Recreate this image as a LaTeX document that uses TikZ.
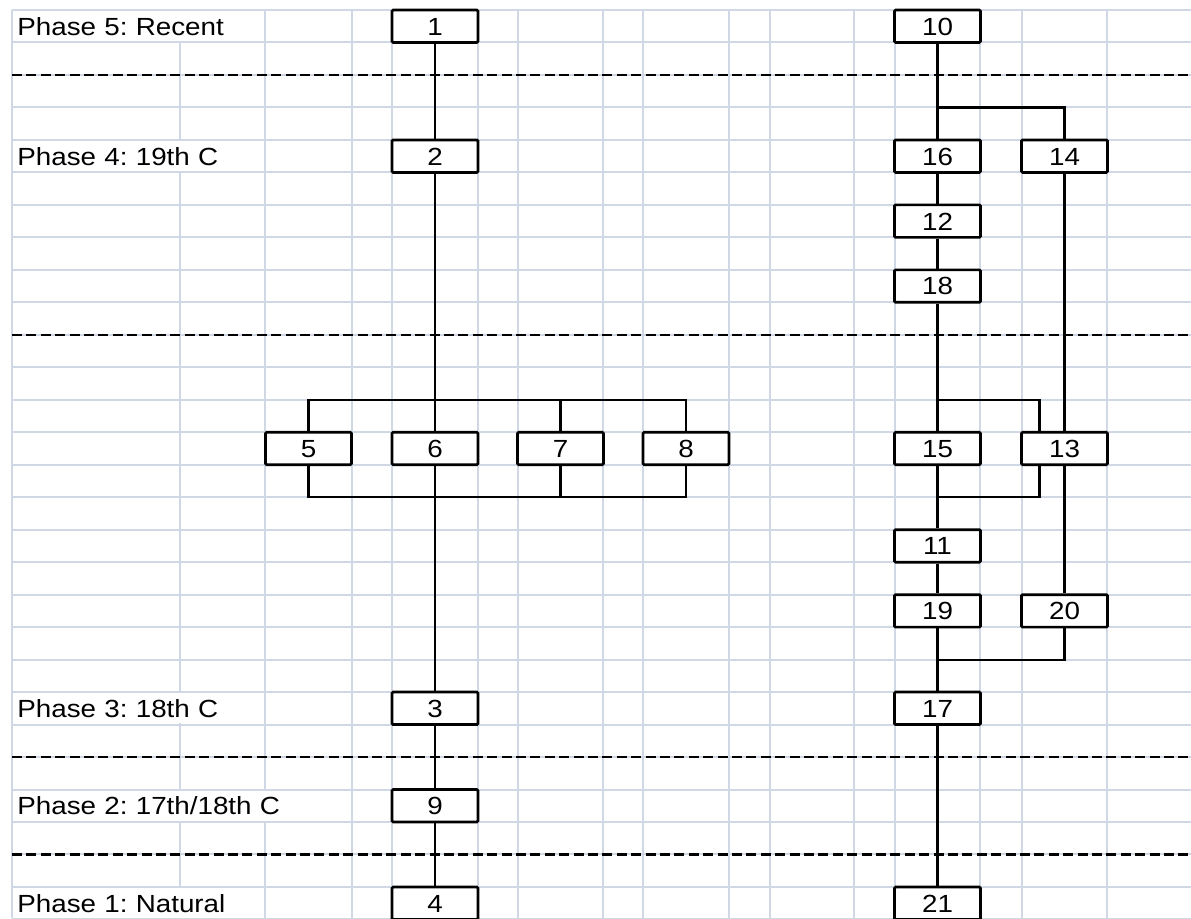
\documentclass[tikz,border=0pt]{standalone}
\usepackage{fontspec}
\setmainfont{Liberation Sans}[FakeStretch=1.12]
\definecolor{gridblue}{HTML}{D0D7E5}
\frenchspacing

\begin{document}
\begin{tikzpicture}[x=0.5pt,y=-0.5pt,
  cell/.style={draw, fill=white, line width=1.35pt, rounded corners=0.6pt, minimum width=43pt, minimum height=16.24pt, inner sep=0pt, font=\fontsize{12.4}{14}\selectfont, text height=8.9pt, text depth=0pt},
  phase/.style={anchor=west, fill=white, inner xsep=2pt, inner ysep=0pt, minimum height=15pt, align=left, font=\fontsize{12.4}{14}\selectfont, text height=8.9pt, text depth=0pt},
  link/.style={line width=1.1pt},
  gridline/.style={gridblue, line width=1pt},
  phaseline/.style={line width=1.25pt, dash pattern=on 5pt off 2.2pt}]
\useasboundingbox (0,0) rectangle (1191,918);
\clip (0,0) rectangle (1191,918);

% sheet grid
\foreach \k in {0,...,28} \draw[gridline] (12,{10+32.48*\k}) -- (1191,{10+32.48*\k});
\foreach \x in {12,180,265,352,392,478,518,603,643,729,770,854,895,980,1022,1107} \draw[gridline] (\x,10) -- (\x,918);
\foreach \k in {0,...,28} \coordinate (r\k) at (0,{10+32.48*\k});

% phase boundaries
\foreach \k in {2,10,23,26} \draw[phaseline] (12,{10+32.48*\k}) -- (1191,{10+32.48*\k});

\node[phase, text width=121.5pt] (p5) at (13,26.24) {Phase 5: Recent};
\node[phase, text width=121.5pt] (p4) at (13,156.16) {Phase 4: 19th C};
\node[phase, text width=121.5pt] (p3) at (13,708.32) {Phase 3: 18th C};
\node[phase, text width=165pt] (p2) at (13,805.76) {Phase 2: 17th/18th C};
\node[phase, text width=121.5pt] (p1) at (13,903.2) {Phase 1: Natural};

\node[cell] (c1) at (435,26.24) {1};
\node[cell] (c2) at (435,156.16) {2};
\node[cell] (c5) at (308.5,448.48) {5};
\node[cell] (c6) at (435,448.48) {6};
\node[cell] (c7) at (560.5,448.48) {7};
\node[cell] (c8) at (686,448.48) {8};
\node[cell] (c3) at (435,708.32) {3};
\node[cell] (c9) at (435,805.76) {9};
\node[cell] (c4) at (435,903.2) {4};

\node[cell] (c10) at (937.5,26.24) {10};
\node[cell] (c16) at (937.5,156.16) {16};
\node[cell] (c14) at (1064.5,156.16) {14};
\node[cell] (c12) at (937.5,221.12) {12};
\node[cell] (c18) at (937.5,286.08) {18};
\node[cell] (c15) at (937.5,448.48) {15};
\node[cell] (c13) at (1064.5,448.48) {13};
\node[cell] (c11) at (937.5,545.92) {11};
\node[cell] (c19) at (937.5,610.88) {19};
\node[cell] (c20) at (1064.5,610.88) {20};
\node[cell] (c17) at (937.5,708.32) {17};
\node[cell] (c21) at (937.5,903.2) {21};

\draw[link] (c1) -- (c2);
\draw[link] (c2) -- (c6);
\draw[link] (c5.north) |- (c8 |- r12) -- (c8.north);
\draw[link] (c7.north) -- (c7 |- r12);
\draw[link] (c5.south) |- (c8 |- r15) -- (c8.south);
\draw[link] (c7.south) -- (c7 |- r15);
\draw[link] (c6) -- (c3);
\draw[link] (c3) -- (c9);
\draw[link] (c9) -- (c4);

\draw[link] (c10) -- (c16);
\draw[link] (c10 |- r3) -| (c14.north);
\draw[link] (c16) -- (c12);
\draw[link] (c12) -- (c18);
\draw[link] (c18) -- (c15);
\draw[link] (c15 |- r12) -| ([xshift=-12.5pt]c13.north);
\draw[link] (c14) -- (c13);
\draw[link] (c15) -- (c11);
\draw[link] ([xshift=-12.5pt]c13.south) |- (c15 |- r15);
\draw[link] (c11) -- (c19);
\draw[link] (c13) -- (c20);
\draw[link] (c20.south) |- (c19 |- r20);
\draw[link] (c19) -- (c17);
\draw[link] (c17) -- (c21);
\end{tikzpicture}
\end{document}
